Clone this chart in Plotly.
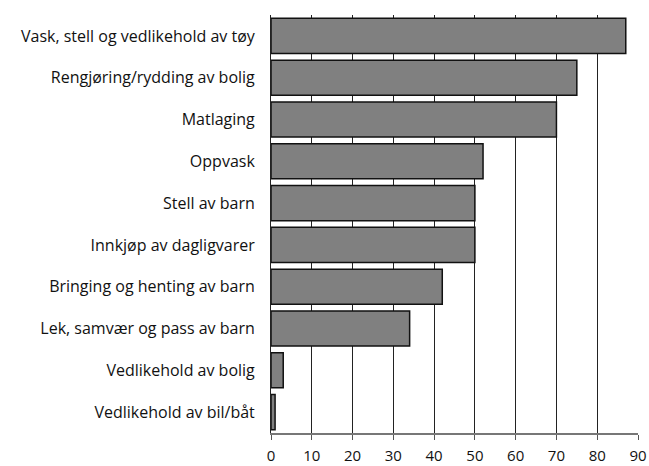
import plotly.graph_objects as go

categories = [
    "Vask, stell og vedlikehold av tøy",
    "Rengjøring/rydding av bolig",
    "Matlaging",
    "Oppvask",
    "Stell av barn",
    "Innkjøp av dagligvarer",
    "Bringing og henting av barn",
    "Lek, samvær og pass av barn",
    "Vedlikehold av bolig",
    "Vedlikehold av bil/båt",
]
values = [87, 75, 70, 52, 50, 50, 42, 34, 3, 1]
x_ticks = [0, 10, 20, 30, 40, 50, 60, 70, 80, 90]

fig = go.Figure(
    go.Bar(
        y=categories,
        x=values,
        orientation="h",
        marker=dict(color="#808080", line=dict(color="#111111", width=1.5)),
        width=0.84,
    )
)

font_family = "Open Sans, Noto Sans, DejaVu Sans, sans-serif"
fig.update_layout(
    width=649,
    height=466,
    margin=dict(l=271, r=11, t=15, b=33, autoexpand=False),
    paper_bgcolor="white",
    plot_bgcolor="white",
    showlegend=False,
    font=dict(family=font_family, size=16, color="#111111"),
)
fig.update_xaxes(
    range=[0, 90],
    tickvals=x_ticks,
    ticktext=[str(v) for v in x_ticks],
    showgrid=True,
    gridcolor="#222222",
    gridwidth=1,
    showline=True,
    linecolor="#777777",
    linewidth=2,
    ticks="outside",
    ticklen=5,
    tickcolor="#555555",
    zeroline=False,
    tickfont=dict(size=15),
    ticklabelstandoff=3,
    automargin=False,
)
fig.update_yaxes(
    categoryorder="array",
    categoryarray=categories[::-1],
    autorange=False,
    range=[-0.5, 9.5],
    showgrid=False,
    showline=True,
    linecolor="#222222",
    linewidth=1,
    ticks="",
    tickfont=dict(size=16),
    ticklabelstandoff=12,
    automargin=False,
)

fig.write_html(
    "out.html",
    config={"displayModeBar": False},
    post_script="document.body.style.margin='0';document.body.style.padding='0';",
)
